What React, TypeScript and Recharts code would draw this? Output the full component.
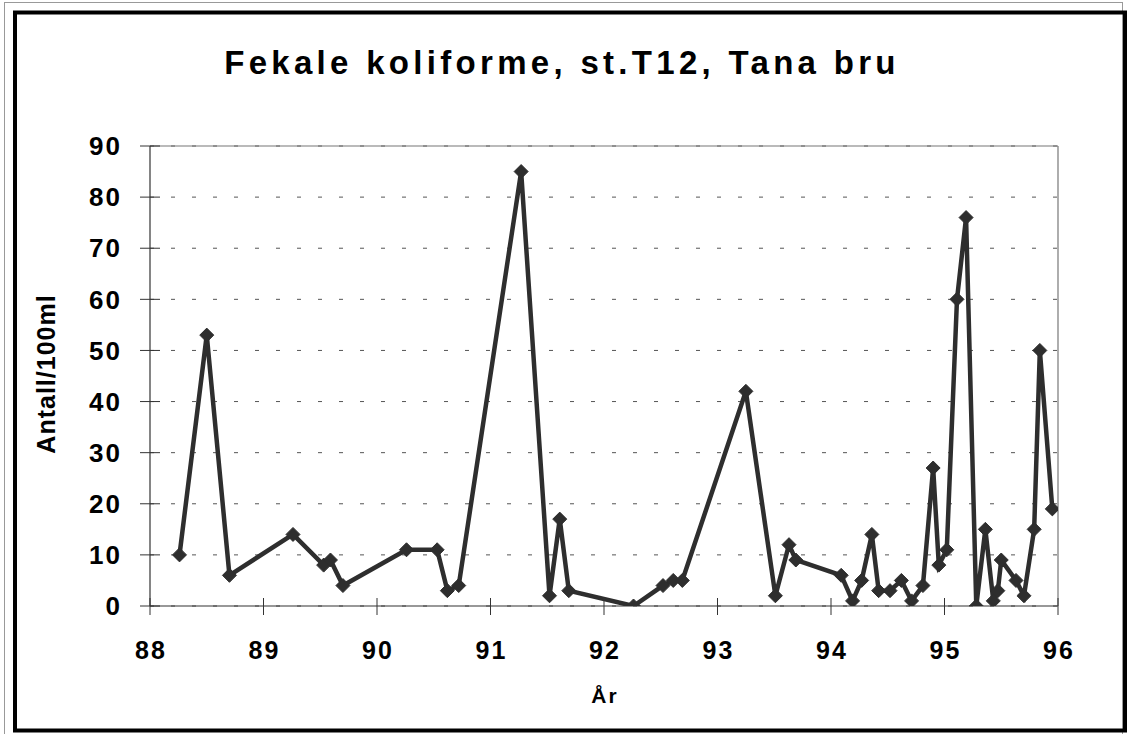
import React from 'react';
import { LineChart, Line, XAxis, YAxis, CartesianGrid, ReferenceLine } from 'recharts';

const years = [
  88.26, 88.5, 88.7, 89.26, 89.53, 89.59, 89.7,
  90.26, 90.53, 90.62, 90.72,
  91.27, 91.52, 91.61, 91.69,
  92.26, 92.52, 92.61, 92.69,
  93.25, 93.51, 93.63, 93.69,
  94.09, 94.19, 94.27, 94.36,
  94.42, 94.52, 94.62, 94.71,
  94.81, 94.9, 94.95, 95.02,
  95.11, 95.19, 95.28, 95.36,
  95.43, 95.47, 95.5, 95.63,
  95.7, 95.79, 95.84, 95.95,
];
const counts = [
  10, 53, 6, 14, 8, 9, 4,
  11, 11, 3, 4,
  85, 2, 17, 3,
  0, 4, 5, 5,
  42, 2, 12, 9,
  6, 1, 5, 14,
  3, 3, 5, 1,
  4, 27, 8, 11,
  60, 76, 0, 15,
  1, 3, 9, 5,
  2, 15, 50, 19,
];
const xTicks = [88, 89, 90, 91, 92, 93, 94, 95, 96];
const yTicks = [0, 10, 20, 30, 40, 50, 60, 70, 80, 90];
const title = 'Fekale koliforme, st.T12, Tana bru';
const xTitle = 'År';
const yTitle = 'Antall/100ml';

const data = years.map((y, i) => ({ year: y, value: counts[i] }));

const FONT = '"Liberation Sans", Arial, Helvetica, sans-serif';
const W = 1127;
const H = 734;
const Y_TS = 10;
const Y_TM = 20;
const X_TS = 9;
const X_TM = 26;

const YTick = (props: any) => {
  const { x, y, payload } = props;
  const ax = x + Y_TS + Y_TM;
  return (
    <g>
      <line x1={ax - 10} x2={ax + 10} y1={y} y2={y} stroke="#333" strokeWidth={1} />
      <text
        x={x + 2}
        y={y}
        dy="0.355em"
        textAnchor="end"
        fontFamily={FONT}
        fontWeight="bold"
        fontSize={26}
        letterSpacing={2}
        fill="#000"
      >
        {payload.value}
      </text>
    </g>
  );
};

const XTick = (props: any) => {
  const { x, y, payload } = props;
  const ay = y - X_TS - X_TM;
  return (
    <g>
      <line x1={x} x2={x} y1={ay - 8} y2={ay + 9} stroke="#333" strokeWidth={1} />
      <text
        x={x + 1}
        y={y}
        dy="0.71em"
        textAnchor="middle"
        fontFamily={FONT}
        fontWeight="bold"
        fontSize={25}
        letterSpacing={2}
        fill="#000"
      >
        {payload.value}
      </text>
    </g>
  );
};

const Diamond = (props: any) => {
  const { cx, cy, index } = props;
  if (cx == null || cy == null) return <g key={`d${index}`} />;
  const r = 7;
  return (
    <polygon
      key={`d${index}`}
      points={`${cx},${cy - r} ${cx + r},${cy} ${cx},${cy + r} ${cx - r},${cy}`}
      fill="#2e2e2e"
      stroke="#2e2e2e"
      strokeWidth={1}
    />
  );
};

export default function App() {
  return (
    <div style={{ position: 'absolute', left: 0, top: 0, width: W, height: H, background: '#fff' }}>
      <svg width={W} height={H} style={{ position: 'absolute', left: 0, top: 0 }}>
        <rect x={4.5} y={2.5} width={1118} height={740} fill="none" stroke="#999" strokeWidth={1} />
        <rect x={15} y={12.5} width={1110} height={718} fill="none" stroke="#000" strokeWidth={4} />
        <text
          x={562}
          y={74}
          textAnchor="middle"
          fontFamily={FONT}
          fontWeight="bold"
          fontSize={33}
          letterSpacing={4.3}
          fill="#000"
        >
          {title}
        </text>
        <text
          x={605}
          y={703}
          textAnchor="middle"
          fontFamily={FONT}
          fontWeight="bold"
          fontSize={21}
          letterSpacing={2}
          fill="#000"
        >
          {xTitle}
        </text>
        <text
          x={55}
          y={374}
          transform="rotate(-90, 55, 374)"
          textAnchor="middle"
          fontFamily={FONT}
          fontWeight="bold"
          fontSize={25}
          letterSpacing={1}
          fill="#000"
        >
          {yTitle}
        </text>
      </svg>
      <div style={{ position: 'absolute', left: 0, top: 0 }}>
        <LineChart
          width={W}
          height={H}
          data={data}
          margin={{ top: 146, right: 69, left: 70, bottom: 68 }}
        >
          <CartesianGrid
            horizontal={true}
            vertical={false}
            stroke="#555"
            strokeDasharray="4 17"
          />
          <XAxis
            dataKey="year"
            type="number"
            domain={[88, 96]}
            ticks={xTicks}
            interval={0}
            height={60}
            tickSize={X_TS}
            tickMargin={X_TM}
            tickLine={false}
            tick={<XTick />}
            axisLine={{ stroke: '#333', strokeWidth: 1.2 }}
            allowDataOverflow
          />
          <YAxis
            type="number"
            domain={[0, 90]}
            ticks={yTicks}
            interval={0}
            width={80}
            tickSize={Y_TS}
            tickMargin={Y_TM}
            tickLine={false}
            tick={<YTick />}
            axisLine={{ stroke: '#333', strokeWidth: 1.2 }}
            allowDataOverflow
          />
          <ReferenceLine y={90} stroke="#777" strokeWidth={1.2} />
          <ReferenceLine x={96} stroke="#777" strokeWidth={1.2} />
          <Line
            type="linear"
            dataKey="value"
            stroke="#2e2e2e"
            strokeWidth={4.5}
            dot={Diamond}
            activeDot={false}
            isAnimationActive={false}
          />
        </LineChart>
      </div>
    </div>
  );
}
